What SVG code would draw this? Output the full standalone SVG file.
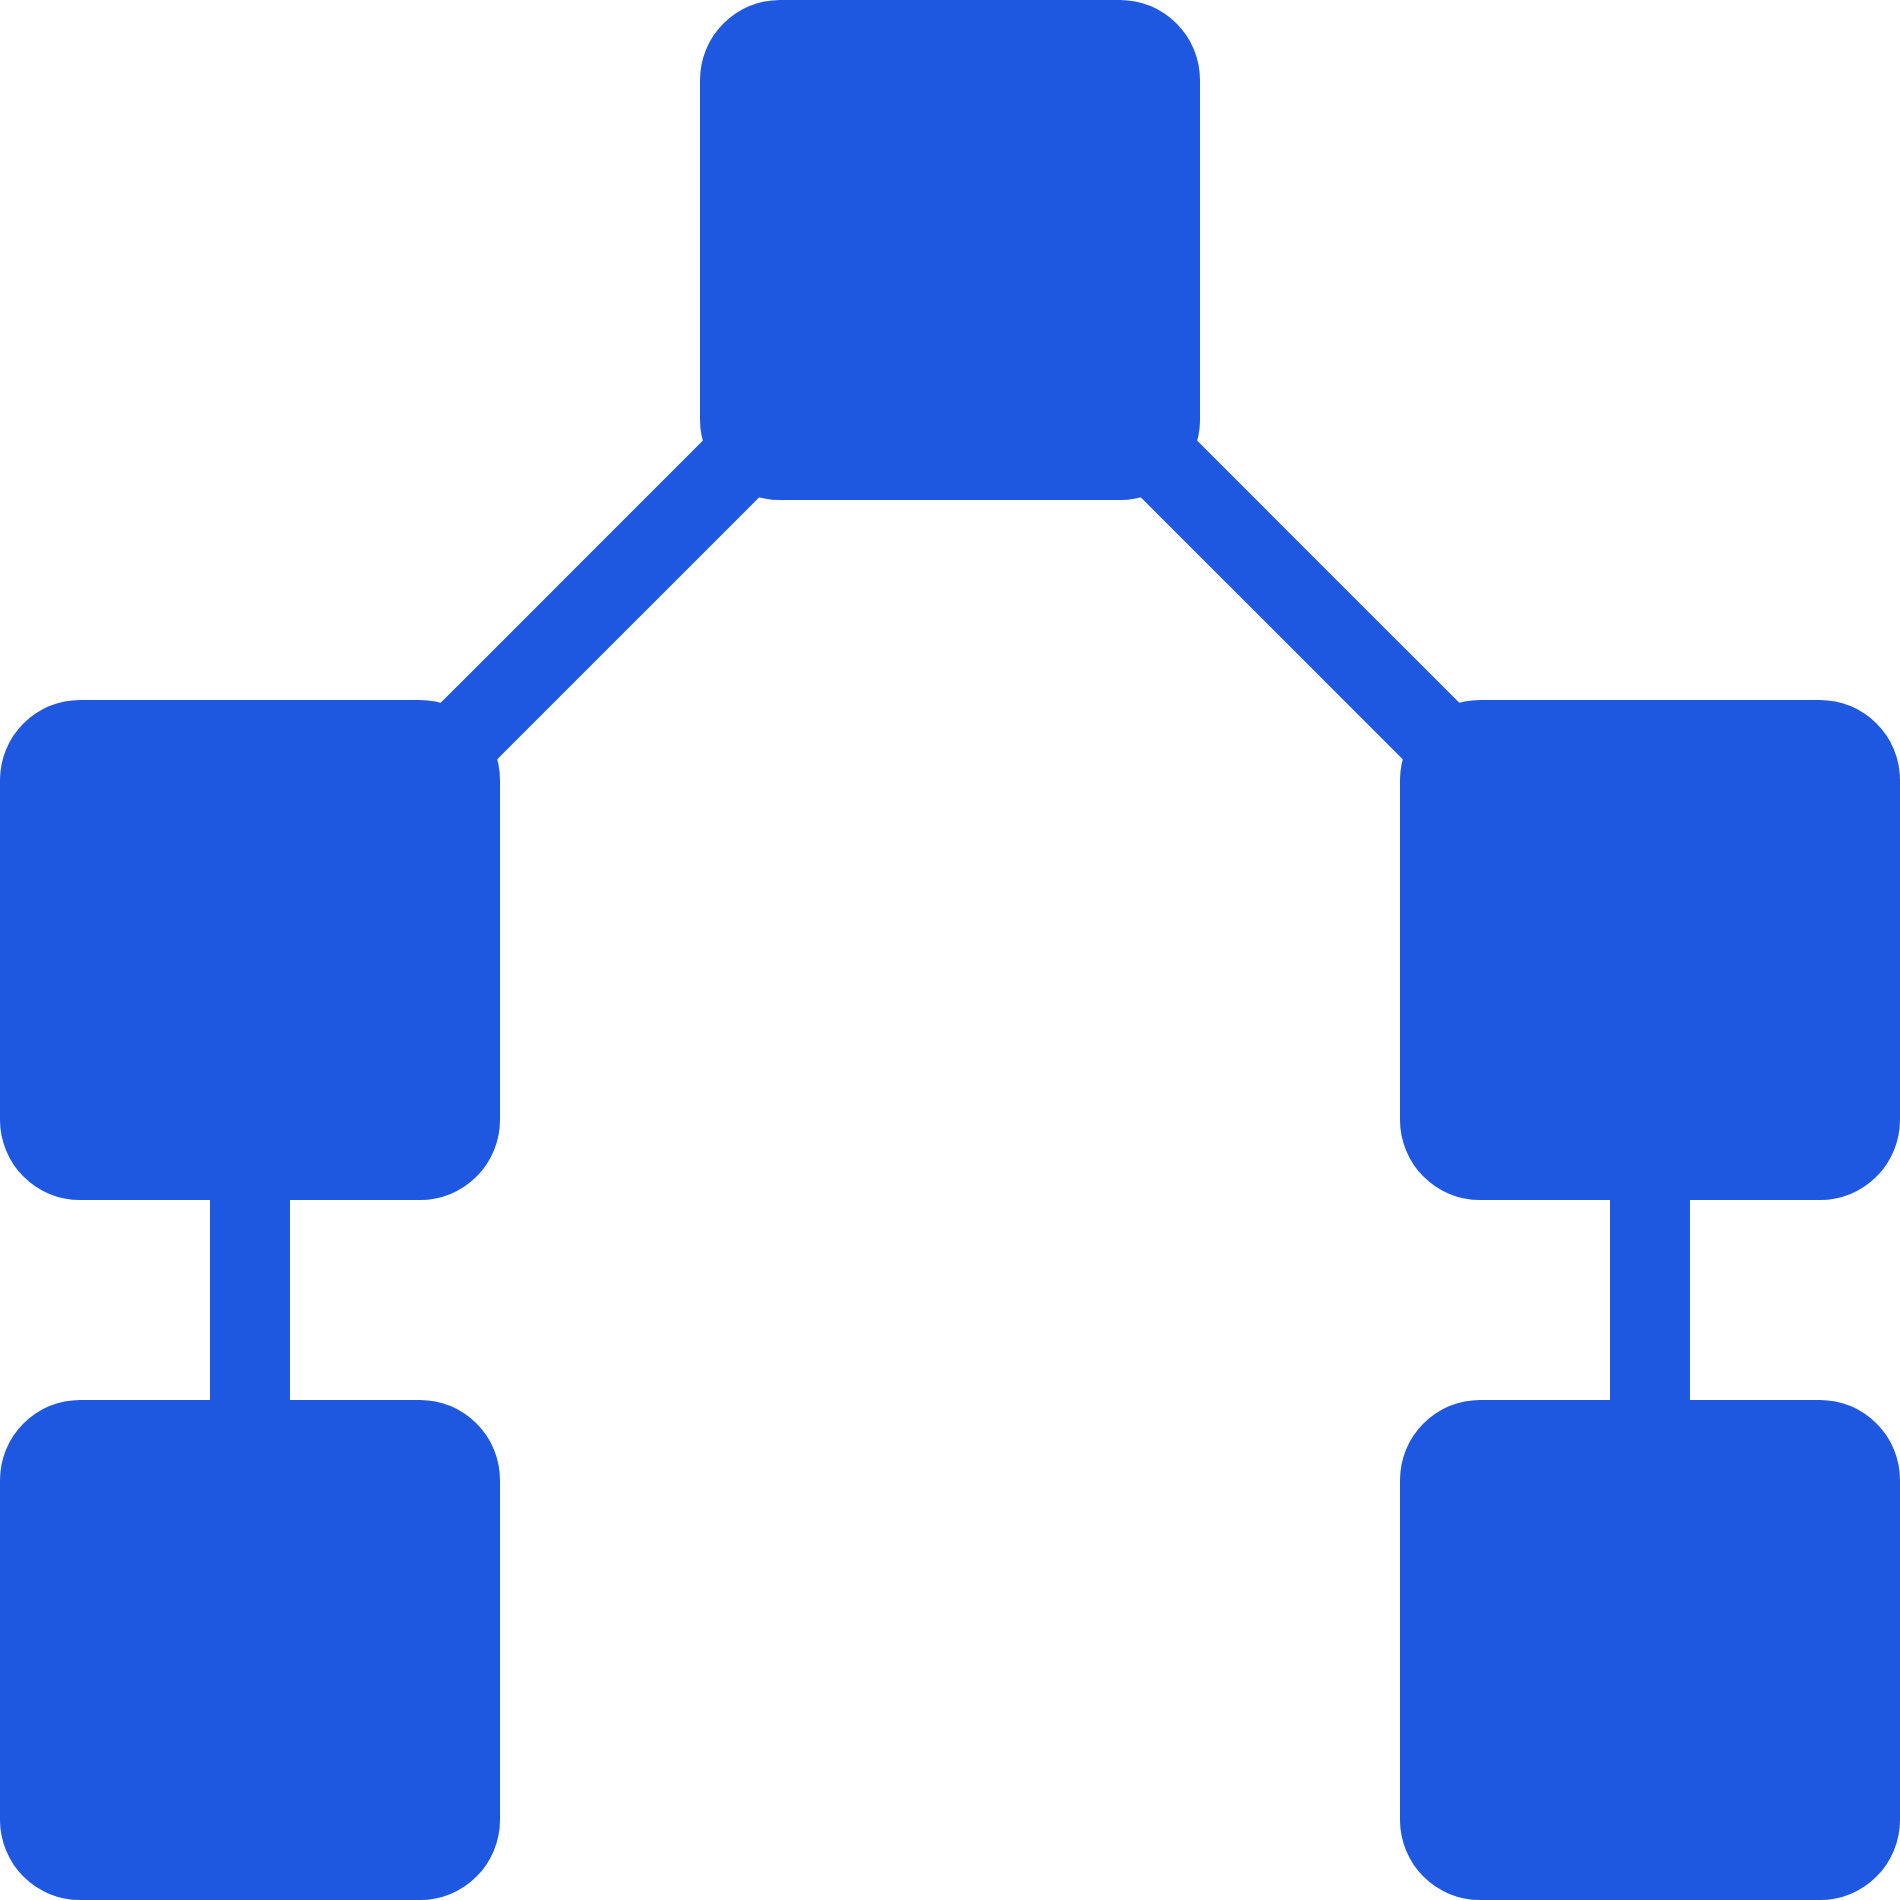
<svg xmlns="http://www.w3.org/2000/svg" width="1900" height="1900" viewBox="0 0 1900 1900">
  <style>
    .node { fill: #1f58e0; }
    .edge { stroke: #1f58e0; stroke-width: 80; fill: none; stroke-linecap: butt; }
  </style>
  <rect width="1900" height="1900" fill="#ffffff"/>
  <g id="connectors">
    <line class="edge" x1="950" y1="250" x2="250" y2="950"/>
    <line class="edge" x1="950" y1="250" x2="1650" y2="950"/>
    <line class="edge" x1="250" y1="950" x2="250" y2="1650"/>
    <line class="edge" x1="1650" y1="950" x2="1650" y2="1650"/>
  </g>
  <g id="node-top"><rect class="node" x="700" y="0" width="500" height="500" rx="80" ry="80"/></g>
  <g id="node-mid-left"><rect class="node" x="0" y="700" width="500" height="500" rx="80" ry="80"/></g>
  <g id="node-mid-right"><rect class="node" x="1400" y="700" width="500" height="500" rx="80" ry="80"/></g>
  <g id="node-bottom-left"><rect class="node" x="0" y="1400" width="500" height="500" rx="80" ry="80"/></g>
  <g id="node-bottom-right"><rect class="node" x="1400" y="1400" width="500" height="500" rx="80" ry="80"/></g>
</svg>
